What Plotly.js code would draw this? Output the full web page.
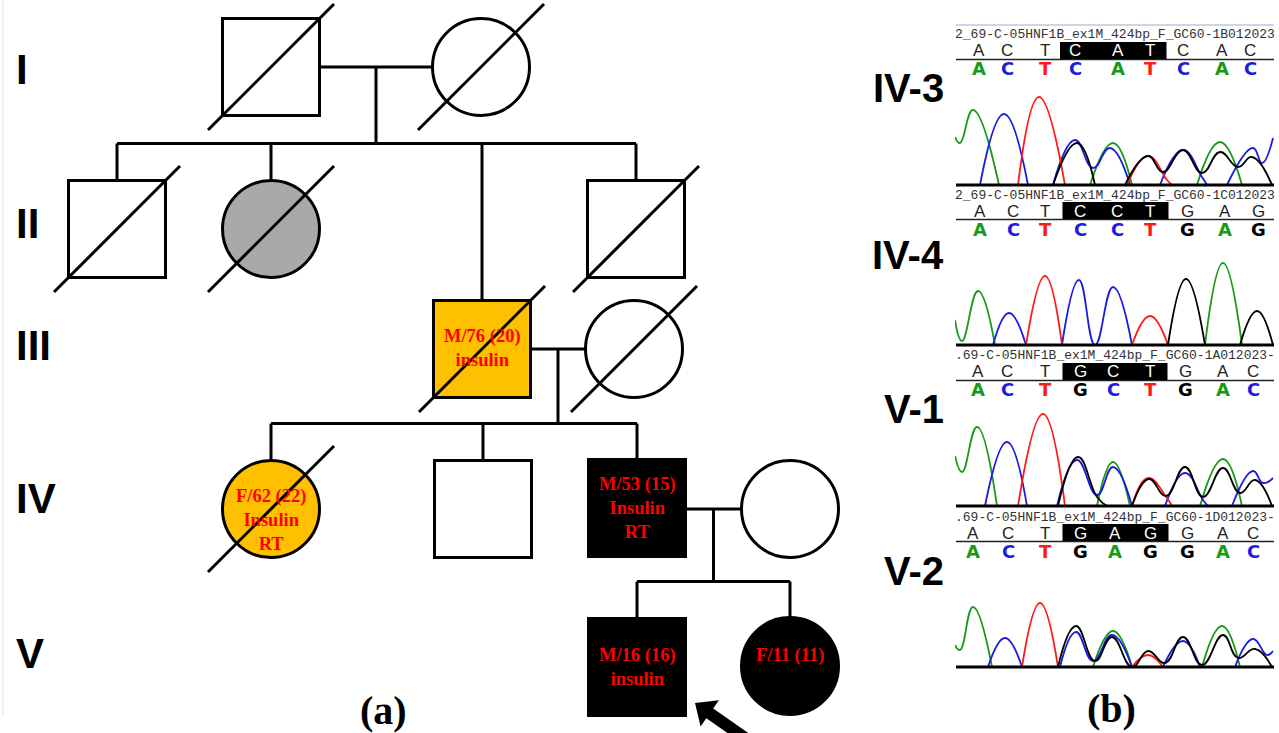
<!DOCTYPE html>
<html><head><meta charset="utf-8">
<script src="https://cdn.plot.ly/plotly-3.0.1.min.js"></script>
<style>html,body{margin:0;padding:0;background:#fff}#chart{width:1279px;height:733px}</style>
</head><body><div id="chart"></div>
<script>
// ================= PEDIGREE DATA =================
const personIds      = ['I-1','I-2','II-1','II-2','II-4','III-1','III-2','IV-1','IV-2','IV-3','IV-4','V-1','V-2'];
const personSex      = ['M','F','M','F','M','M','F','F','M','M','F','M','F'];
const personStatus   = ['none','none','none','gray','none','orange','none','orange','none','affected','none','affected','affected'];
const personDeceased = [true,true,true,true,true,true,true,true,false,false,false,false,false];
const personX        = [271,481,117,271,636,482,634,271,483,637,790,637,790];
const personY        = [67,67,229,229,229,349,349,509,509,508,509,667,666];
const personLabel    = ['','','','','','M/76 (20)<br>insulin','','F/62 (22)<br>Insulin<br>RT','','M/53 (15)<br>Insulin<br>RT','','M/16 (16)<br>insulin','F/11 (11)'];
const familyParents  = [['I-1','I-2'],['III-1','III-2'],['IV-3','IV-4']];
const familyChildren = [['II-1','II-2','III-1','II-4'],['IV-1','IV-2','IV-3'],['V-1','V-2']];
const generationLabels = ['I','II','III','IV','V'];
const generationLabelY = [69,223,345,498,653];
const proband = 'V-1';

// ================= SEQUENCING DATA =================
const panelNames = ['IV-3','IV-4','V-1','V-2'];
const panelFiles = ['2_69-C-05HNF1B_ex1M_424bp_F_GC60-1B012023','2_69-C-05HNF1B_ex1M_424bp_F_GC60-1C012023',
                    '.69-C-05HNF1B_ex1M_424bp_F_GC60-1A012023-','.69-C-05HNF1B_ex1M_424bp_F_GC60-1D012023-'];
const seqIV3 = ['A','C','T','C','A','T','C','A','C'];
const seqIV4 = ['A','C','T','C','C','T','G','A','G'];
const seqV1  = ['A','C','T','G','C','T','G','A','C'];
const seqV2  = ['A','C','T','G','A','G','G','A','C'];
const posIV3 = [24,52,90,120,163,195,228,267,295];
const posIV4 = [25,58,90,125,162,195,232,270,303];
const posV1  = [23,52,90,125,158,195,230,268,298];
const posV2  = [18,53,90,125,160,195,232,268,298];
const highlightFrom = 3, highlightTo = 5; // bases 4-6 (0-based)

// trace points [scan position, signal]; null = gap
const IV3_A = [[0,48],[5,42],[18,75],[44,0],null,[135,0],[158,42],[177,0],null,[242,0],[265,43],[287,0]];
const IV3_C = [[25,0],[49,71],[73,0],null,[98,0],[120,45],[138,17],[155,37],[175,0],null,[205,0],[228,35],[247,8],[252,0],null,[272,0],[298,37],[307,22],[318,47]];
const IV3_T = [[63,0],[84,88],[110,0],null,[172,0],[193,29],[212,5],[217,0]];
const IV3_G = [[98,0],[122,42],[140,0],null,[170,0],[193,29],[208,13],[228,35],[247,12],[265,33],[283,18],[297,28],[317,0]];

const IV4_A = [[0,25],[7,4],[23,54],[40,0],null,[250,0],[268,82],[287,0]];
const IV4_C = [[38,0],[54,32],[71,0],null,[107,0],[124,65],[140,0],[158,58],[177,0]];
const IV4_T = [[71,0],[90,69],[107,0],null,[177,0],[195,29],[213,0]];
const IV4_G = [[213,0],[231,66],[250,0],null,[285,0],[302,34],[318,0]];

const V1_A = [[0,50],[7,34],[22,79],[42,0],null,[142,0],[158,44],[175,0],null,[245,0],[268,47],[287,0]];
const V1_C = [[30,0],[52,64],[72,0],null,[102,0],[122,46],[142,11],[158,39],[177,0],null,[210,0],[230,33],[248,6],[253,0],null,[277,0],[298,35],[308,23],[318,28]];
const V1_T = [[63,0],[88,92],[110,0],null,[177,0],[193,28],[212,8],[217,0]];
const V1_G = [[103,0],[123,49],[142,9],[152,0],null,[177,0],[194,27],[211,10],[230,39],[248,9],[268,38],[285,13],[300,26],[317,0]];

const V2_A = [[0,22],[5,17],[18,60],[37,0],null,[138,0],[158,36],[177,0],null,[247,0],[267,41],[285,0]];
const V2_C = [[33,0],[50,29],[67,0],null,[105,0],[121,35],[138,6],[157,32],[177,0],null,[208,0],[228,26],[245,0],null,[280,0],[298,28],[312,12],[318,16]];
const V2_T = [[67,0],[85,64],[103,0],null,[177,0],[193,12],[208,0]];
const V2_G = [[103,0],[121,41],[140,6],[157,30],[177,0],[193,16],[210,4],[228,30],[247,2],[268,32],[283,9],[300,18],[317,0]];

// ================= STYLES / LAYOUT =================
const W = 1279, H = 733;
const HALF = 48.5, SLASH = 63, LW = 3;
const fills = {none:'#ffffff', gray:'#a9a9a9', orange:'#ffc000', affected:'#000000'};
const labelShift = {'IV-1': 11, 'V-2': -11, 'III-1': -1};
const baseColors = {A:'#179a17', C:'#1c1ce0', T:'#ff1a1a', G:'#000000'};
const panelBaselinePx = [185,345,506,667];
const panelLabelY = [88,255,409,571];
const panelSeqs = [seqIV3,seqIV4,seqV1,seqV2];
const panelPos = [posIV3,posIV4,posV1,posV2];
const panelTraces = [[IV3_A,IV3_C,IV3_T,IV3_G],[IV4_A,IV4_C,IV4_T,IV4_G],[V1_A,V1_C,V1_T,V1_G],[V2_A,V2_C,V2_T,V2_G]];
const channelOrder = ['A','C','T','G'];
const Y_HEADER = 150, Y_CALLED = 134, Y_RULE = 125.5, Y_BOX0 = 126, Y_BOX1 = 143, Y_COLORED = 116;

const idx = id => personIds.indexOf(id);
const shapes = [], annotations = [], traces = [];
const L = (x0,y0,x1,y1,extra) => Object.assign({type:'line',xref:'x',yref:'y',x0,y0,x1,y1,line:{color:'#000',width:LW}}, extra||{});

// faint left border
shapes.push({type:'line',xref:'x',yref:'y',x0:3,y0:0,x1:3,y1:717,line:{color:'#ececec',width:1.5}});

// family lines
familyParents.forEach((pair, f) => {
  const a = idx(pair[0]), b = idx(pair[1]);
  const my = personY[b];
  const xL = personX[a] + HALF, xR = personX[b] - HALF;
  shapes.push(L(xL, my, xR, my));
  const dropX = (xL + xR) / 2;
  const kids = familyChildren[f].map(idx);
  const sibY = personY[kids[0]] - HALF - 37;
  shapes.push(L(dropX, my, dropX, sibY));
  const xs = kids.map(k => personX[k]);
  shapes.push(L(Math.min(...xs), sibY, Math.max(...xs), sibY));
  kids.forEach(k => shapes.push(L(personX[k], sibY, personX[k], personY[k] - HALF)));
});

// symbols
personIds.forEach((id, i) => {
  const cx = personX[i], cy = personY[i];
  shapes.push({type: personSex[i]==='M' ? 'rect' : 'circle', xref:'x', yref:'y',
    x0:cx-HALF, x1:cx+HALF, y0:cy-HALF, y1:cy+HALF,
    fillcolor: fills[personStatus[i]], line:{color:'#000', width:LW}});
});
// deceased slashes
personIds.forEach((id, i) => {
  if (!personDeceased[i]) return;
  const cx = personX[i], cy = personY[i];
  shapes.push(L(cx - SLASH, cy + SLASH, cx + SLASH, cy - SLASH));
});
// labels
personIds.forEach((id, i) => {
  if (!personLabel[i]) return;
  annotations.push({xref:'x', yref:'y', x:personX[i], y:personY[i] + (labelShift[id]||0), text:'<b>'+personLabel[i]+'</b>',
    showarrow:false, xanchor:'center', yanchor:'middle',
    font:{family:'Liberation Serif, Times New Roman, serif', size:18.5, color:'#ff0000'}});
});
// proband arrow
(function(){
  const p = idx(proband);
  const tx = personX[p] + 58, ty = personY[p] + 36;
  const ang = 35 * Math.PI / 180;
  const ux = Math.cos(ang), uy = Math.sin(ang), nx = -uy, ny = ux;
  const Lh = 18, Wh = 16, Ws = 6, Ls = 90;
  const bx = tx + Lh*ux, by = ty + Lh*uy;
  const pts = [[tx,ty],[bx+Wh*nx,by+Wh*ny],[bx+Ws*nx,by+Ws*ny],[tx+Ls*ux+Ws*nx,ty+Ls*uy+Ws*ny],
               [tx+Ls*ux-Ws*nx,ty+Ls*uy-Ws*ny],[bx-Ws*nx,by-Ws*ny],[bx-Wh*nx,by-Wh*ny]];
  shapes.push({type:'path', xref:'x', yref:'y', path:'M'+pts.map(p=>p[0].toFixed(1)+','+p[1].toFixed(1)).join('L')+'Z',
    fillcolor:'#000', line:{color:'#000', width:0}});
})();
// generation labels
generationLabels.forEach((g, i) => annotations.push({xref:'x', yref:'y', x:14, y:generationLabelY[i], text:'<b>'+g+'</b>',
  showarrow:false, xanchor:'left', yanchor:'middle', font:{family:'Liberation Sans, Arial, sans-serif', size:42, color:'#000'}}));
// panel letters
annotations.push({xref:'x', yref:'y', x:383, y:710, text:'<b>(a)</b>', showarrow:false, xanchor:'center', yanchor:'middle',
  font:{family:'Liberation Serif, serif', size:40, color:'#000'}});
annotations.push({xref:'x', yref:'y', x:1111, y:708, text:'<b>(b)</b>', showarrow:false, xanchor:'center', yanchor:'middle',
  font:{family:'Liberation Serif, serif', size:40, color:'#000'}});
// individual labels for chromatograms
panelNames.forEach((n, i) => annotations.push({xref:'x', yref:'y', x:946, y:panelLabelY[i], text:'<b>'+n+'</b>',
  showarrow:false, xanchor:'right', yanchor:'middle', font:{family:'Liberation Sans, Arial, sans-serif', size:40, color:'#000'}}));

const layout = {
  width:W, height:H, margin:{l:0,r:0,t:0,b:0}, paper_bgcolor:'#fff', plot_bgcolor:'rgba(0,0,0,0)', showlegend:false,
  xaxis:{domain:[0,1], range:[0,W], visible:false, fixedrange:true},
  yaxis:{domain:[0,1], range:[H,0], visible:false, fixedrange:true}
};
const X0PX = 955, X1PX = 1275;
panelNames.forEach((n, k) => {
  const ax = k + 2, xr = 'x'+ax, yr = 'y'+ax;
  const b = panelBaselinePx[k];
  layout['xaxis'+ax] = {domain:[X0PX/W, X1PX/W], range:[0,320], visible:false, anchor:yr, fixedrange:true};
  layout['yaxis'+ax] = {domain:[1-(b+3)/H, 1-(b-162)/H], range:[-3,162], visible:false, anchor:xr, fixedrange:true};
  // chromatogram traces
  panelTraces[k].forEach((pts, c) => {
    traces.push({type:'scatter', mode:'lines', xaxis:xr, yaxis:yr,
      x: pts.map(p => p ? p[0] : null), y: pts.map(p => p ? p[1] : null),
      line:{color: baseColors[channelOrder[c]], width:1.8, shape:'spline', smoothing:1.3}, hoverinfo:'skip', connectgaps:false});
  });
  // baseline
  shapes.push({type:'line', xref:xr, yref:yr, x0:1, x1:319, y0:0, y1:0, line:{color:'#000', width:3}});
  // rule under called bases
  shapes.push({type:'line', xref:xr, yref:yr, x0:1, x1:319, y0:Y_RULE, y1:Y_RULE, line:{color:'#222', width:1.6}});
  if (k === 0) shapes.push({type:'line', xref:xr, yref:yr, x0:1, x1:319, y0:160, y1:160, line:{color:'#cfd6e2', width:2}});
  const pos = panelPos[k], seq = panelSeqs[k];
  const bx0 = (pos[highlightFrom-1] + pos[highlightFrom]) / 2, bx1 = (pos[highlightTo] + pos[highlightTo+1]) / 2;
  shapes.push({type:'rect', xref:xr, yref:yr, x0:bx0, x1:bx1, y0:Y_BOX0, y1:Y_BOX1, fillcolor:'#000', line:{width:0}});
  annotations.push({xref:xr, yref:yr, x:160, y:Y_HEADER, text:panelFiles[k], showarrow:false, xanchor:'center', yanchor:'middle',
    font:{family:'Liberation Mono, DejaVu Sans Mono, monospace', size:13, color:'#333'}});
  seq.forEach((s, j) => {
    const inBox = j >= highlightFrom && j <= highlightTo;
    annotations.push({xref:xr, yref:yr, x:pos[j], y:Y_CALLED, text:s, showarrow:false, xanchor:'center', yanchor:'middle',
      font:{family:'Liberation Sans, Arial, sans-serif', size:17, color: inBox ? '#fff' : '#222'}});
    annotations.push({xref:xr, yref:yr, x:pos[j], y:Y_COLORED, text:'<b>'+s+'</b>', showarrow:false, xanchor:'center', yanchor:'middle',
      font:{family:'DejaVu Sans, sans-serif', size:18, color: baseColors[s]}});
  });
});
layout.shapes = shapes;
layout.annotations = annotations;
Plotly.newPlot('chart', traces, layout, {displayModeBar:false, staticPlot:true});
</script>
</body></html>
